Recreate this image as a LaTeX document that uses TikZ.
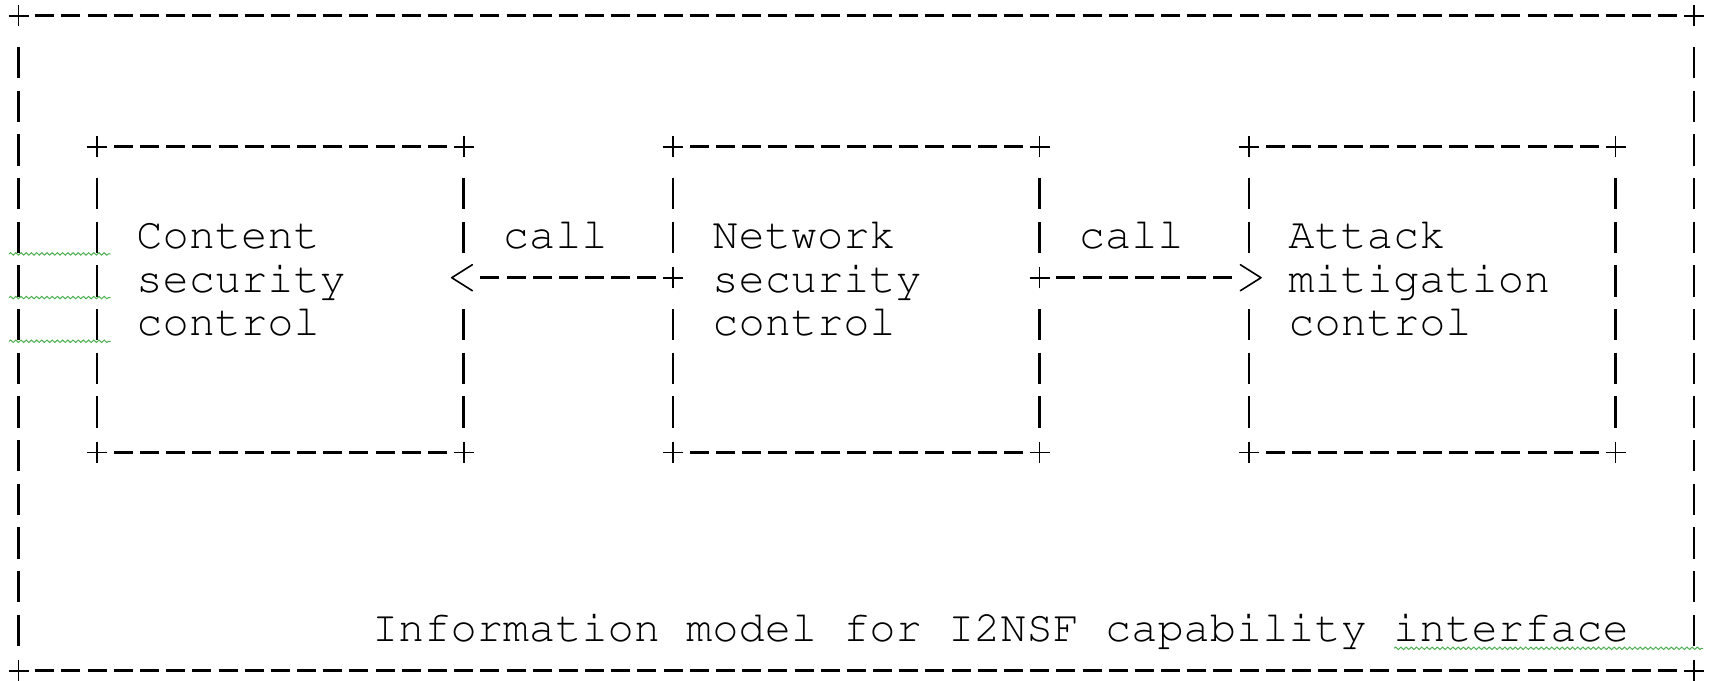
\documentclass[tikz,border=0pt]{standalone}
\usepackage[T1]{fontenc}
\usetikzlibrary{arrows.meta,decorations.pathmorphing}

\definecolor{spellgreen}{RGB}{76,175,80}
% one character cell of the typed drawing
\newcommand\cellw{13.09pt}
\newcommand\cellh{21.835pt}
\newcommand\typewriter{\fontfamily{pcr}\fontsize{21.82pt}{21.835pt}\selectfont}
\newcommand\rowstrut{\rule[-3.77pt]{0pt}{21.83pt}}

\tikzset{
  boxarea/.style={inner sep=0pt, outer sep=0pt},
  dashrow/.style={line width=1.35pt, dash pattern=on 9.5pt off 3.59pt, dash phase=11.295pt},
  barcol/.style={line width=1.25pt, dash pattern=on 15.75pt off 6.085pt, dash phase=17.165pt},
  plus/.pic={\draw[line width=0.85pt] (-5pt,0) -- (5pt,0) (0,-5.3pt) -- (0,5.3pt);},
  ttext/.style={font=\typewriter, inner sep=0pt, outer sep=0pt, anchor=west, align=left},
  callto/.style={line width=1.35pt,
    dash pattern=on 0pt off 8.34pt on 9.5pt off 3.59pt on 9.5pt off 3.59pt on 9.5pt off 3.59pt
      on 9.5pt off 3.59pt on 9.5pt off 3.59pt on 9.5pt off 3.59pt on 9.5pt off 40pt,
    -{Straight Barb[length=10.3pt, width=13pt, line width=0.8pt, round]}},
  squiggle/.style={spellgreen, line width=0.5pt, decorate,
    decoration={snake, segment length=2.6pt, amplitude=0.6pt}},
}

% dashed box with plus signs at the corners: name, col, row, col, row
\newcommand\asciibox[5]{%
  \node[boxarea, minimum width={(#4-#2)*\cellw}, minimum height={(#5-#3)*\cellh}]
    (#1) at ({(#2+#4)/2},{(#3+#5)/2}) {};
  \draw[dashrow] (#2+0.5,#3) -- (#4-0.5,#3) (#2+0.5,#5) -- (#4-0.5,#5);
  \pic at (#1.north west) {plus}; \pic at (#1.north east) {plus};
  \pic at (#1.south west) {plus}; \pic at (#1.south east) {plus};
}

\begin{document}
\begin{tikzpicture}[x=\cellw, y=-\cellh]
\useasboundingbox (-0.7105,-0.3595) rectangle (64.606,15.212);

% frame and boxes
\asciibox{frame}{0}{0}{64}{15}
\asciibox{contentbox}{3}{3}{17}{10}
\asciibox{netbox}{25}{3}{39}{10}
\asciibox{attackbox}{47}{3}{61}{10}

% sides, row 6 left open where the calls meet them
\draw[barcol] (0,0.5) -- (0,14.5) (64,0.5) -- (64,14.5);
\draw[barcol] (3,3.5) -- (3,9.5) (17,3.5) -- (17,5.5) (17,6.5) -- (17,9.5);
\draw[barcol] (25,3.5) -- (25,5.5) (25,6.5) -- (25,9.5) (39,3.5) -- (39,5.5) (39,6.5) -- (39,9.5);
\draw[barcol] (47,3.5) -- (47,5.5) (47,6.5) -- (47,9.5) (61,3.5) -- (61,9.5);

% texts
\node[ttext] (content) at (4.5,6) {\rowstrut Content\\\rowstrut security\\\rowstrut control};
\node[ttext] (net) at (26.5,6) {\rowstrut Network\\\rowstrut security\\\rowstrut control};
\node[ttext] (attack) at (48.5,6) {\rowstrut Attack\\\rowstrut mitigation\\\rowstrut control};
\node[ttext] (call1) at (18.5,5) {\rowstrut call};
\node[ttext] (call2) at (40.5,5) {\rowstrut call};
\node[ttext] (model) at (13.5,14) {\rowstrut Information model for I2NSF capability interface};

% calls
\draw[callto] (netbox.west |- net) -- ([xshift=-6.35pt]contentbox.east |- content);
\draw[callto] (netbox.east |- net) -- ([xshift=6.35pt]attackbox.west |- attack);
\pic at (netbox.west |- net) {plus};
\pic at (netbox.east |- net) {plus};

% spell checker marks
\draw[squiggle] (-0.367,5.455) -- (3.518,5.455);
\draw[squiggle] (-0.367,6.455) -- (3.518,6.455);
\draw[squiggle] (-0.367,7.455) -- (3.518,7.455);
\draw[squiggle] (52.54,14.486) -- (64.34,14.486);
\end{tikzpicture}
\end{document}
